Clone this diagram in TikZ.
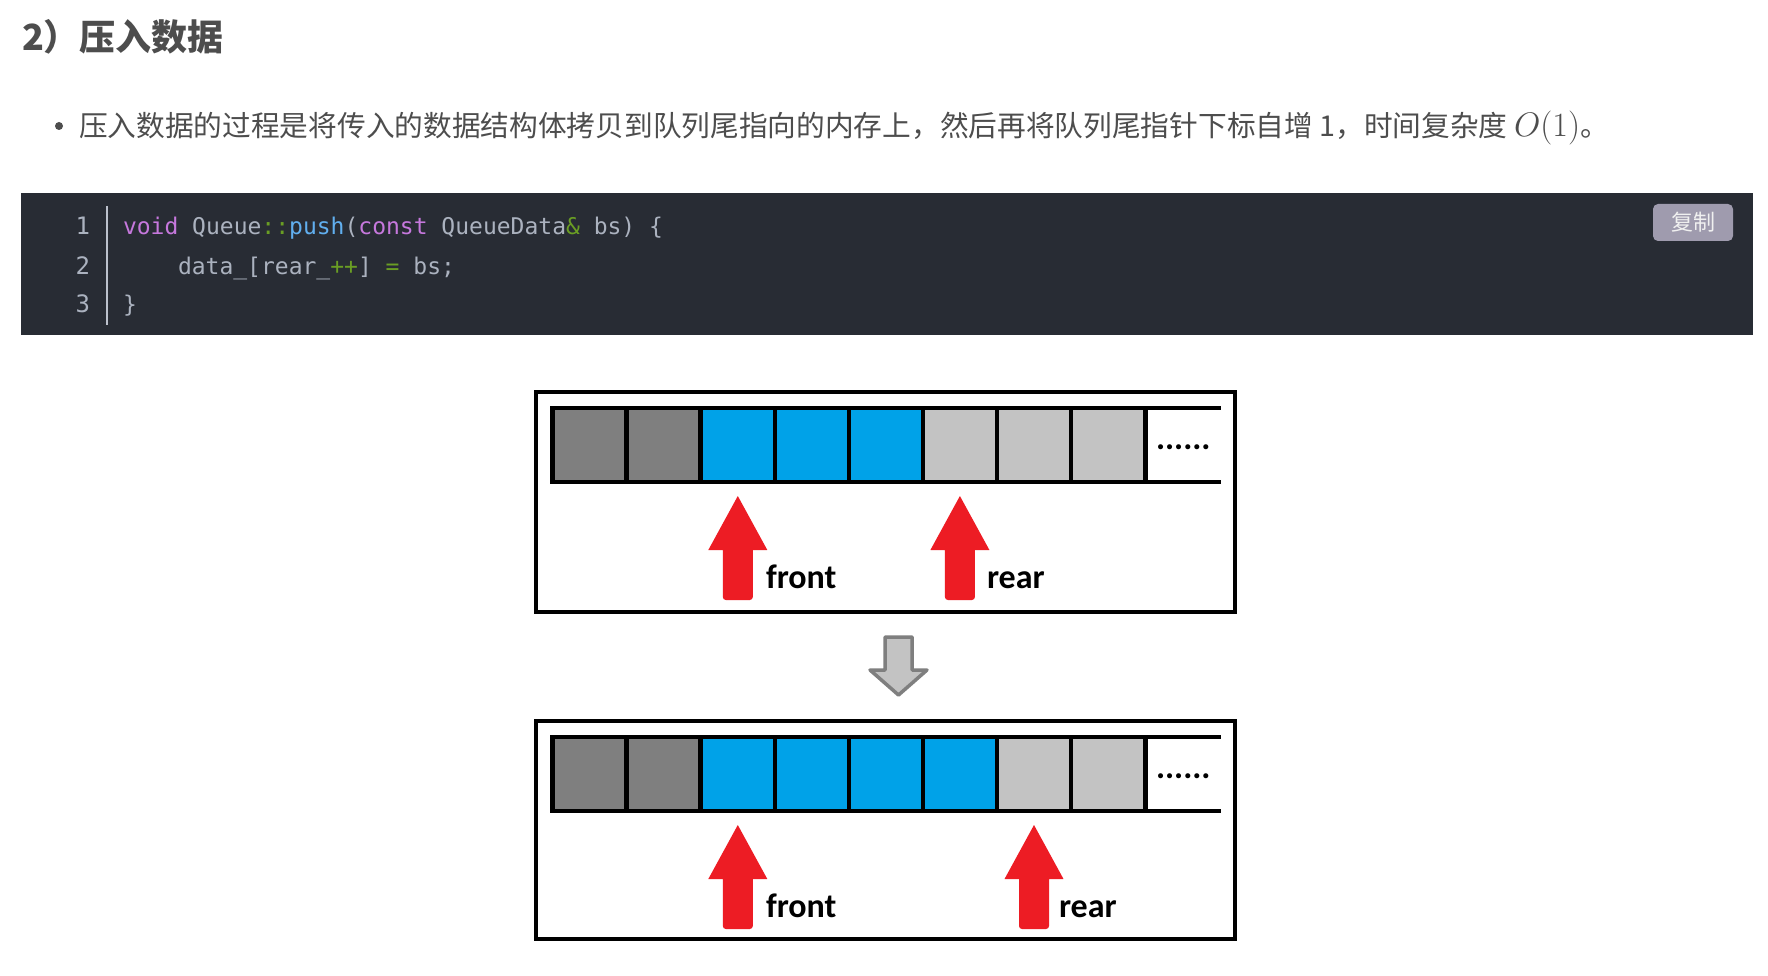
\RequirePackage{fix-cm}
\documentclass[tikz,border=0pt]{standalone}
\usepackage{fontspec}
\setmainfont{Noto Sans CJK SC}
\newfontfamily\codefont{DejaVu Sans Mono}
\newfontfamily\lblfont{Carlito}
\definecolor{txt}{HTML}{4D4D4D}
\definecolor{codebg}{HTML}{282C34}
\definecolor{codefg}{HTML}{ABB2BF}
\definecolor{kw}{HTML}{C678DD}
\definecolor{fn}{HTML}{61AFEF}
\definecolor{op}{HTML}{6A9E24}
\definecolor{btn}{HTML}{9F9BAE}
\definecolor{dgrey}{HTML}{7F7F7F}
\definecolor{qblue}{HTML}{00A2E8}
\definecolor{lgrey}{HTML}{C3C3C3}
\definecolor{pred}{HTML}{ED1C24}
\begin{document}
\begin{tikzpicture}[x=1pt,y=-1pt,
  plain/.style={inner sep=0pt, outer sep=0pt},
  titletxt/.style={plain, anchor=base west, text=txt, font=\fontsize{36}{42}\selectfont\bfseries},
  bodytxt/.style={plain, anchor=base west, text=txt, font=\fontsize{28.7}{34}\selectfont},
  codetxt/.style={plain, anchor=base west, text=codefg, font=\fontsize{23}{28}\selectfont\codefont},
  linenum/.style={plain, anchor=base east, text=codefg, font=\fontsize{24}{28}\selectfont\codefont},
  lbl/.style={plain, anchor=base west, text=black, font=\fontsize{34}{40}\selectfont\lblfont\bfseries},
  cell/.style={draw=black, line width=4.5pt, minimum width=74.1pt, minimum height=74pt, inner sep=0pt, outer sep=0pt},
  frame/.style={draw=black, line width=4.5pt},
  rail/.style={draw=black, line width=4.5pt},
  redup/.pic={\fill[pred, rounded corners=0.1pt] (0,0) -- (29.5,54) -- (15,54) [rounded corners=3pt] -- (15,104) -- (-15,104) [rounded corners=0.1pt] -- (-15,54) -- (-29.5,54) -- cycle;}
]
\useasboundingbox[fill=white] (0,0) rectangle (1768,976);

% heading and bullet
\node[titletxt] (title) at (22,51) {2）压入数据};
\fill[txt] (59,126) circle (4);
\node[bodytxt] (body) at (79,137) {压入数据的过程是将传入的数据结构体拷贝到队列尾指向的内存上，然后再将队列尾指针下标自增 1，时间复杂度 {\fontsize{34}{40}\selectfont$O(1)$}。};

% code block
\fill[codebg] (21,193) rectangle (1753,335);
\draw[color=codefg!80!white, line width=2pt] (107,206) -- (107,325);
\node[linenum] (n1) at (90,235) {1};
\node[linenum] (n2) at (90,274) {2};
\node[linenum] (n3) at (90,312) {3};
\node[codetxt] (c1) at (123,235) {\textcolor{kw}{void} Queue\textcolor{op}{::}\textcolor{fn}{push}(\textcolor{kw}{const} QueueData\textcolor{op}{\&} bs) \{};
\node[codetxt] (c2) at (178,274) {data\_[rear\_\textcolor{op}{++}] \textcolor{op}{=} bs;};
\node[codetxt] (c3) at (123,312) {\}};
\fill[btn, rounded corners=5pt] (1653,204) rectangle (1733,241);
\node[plain, text=white!94!black, font=\fontsize{22}{26}\selectfont] (copy) at (1693,222.5) {复制};

% top queue
\draw[frame] (536,392) rectangle (1235,612);
\foreach \i/\c in {0/dgrey,1/dgrey,2/qblue,3/qblue,4/qblue,5/lgrey,6/lgrey,7/lgrey}{
  \node[cell, fill=\c] (t\i) at ({552.5+(\i+0.5)*74.1},445) {};
}
\draw[rail] (550,408) -- (1221,408);
\draw[rail] (550,482) -- (1221,482);
\node[lbl] (tdots) at (1156,449) {......};
\pic at (737.8,496) {redup};
\pic at (959.9,496) {redup};
\node[lbl] (tfront) at (766,588) {front};
\node[lbl] (trear) at (987,588) {rear};

% down arrow
\draw[line width=3.5pt, draw=dgrey, fill=lgrey, line join=round] (885,637) -- (912,637) -- (912,670) -- (927,670) -- (898.5,695) -- (870,670) -- (885,670) -- cycle;

% bottom queue
\draw[frame] (536,721) rectangle (1235,939);
\foreach \i/\c in {0/dgrey,1/dgrey,2/qblue,3/qblue,4/qblue,5/qblue,6/lgrey,7/lgrey}{
  \node[cell, fill=\c] (b\i) at ({552.5+(\i+0.5)*74.1},774) {};
}
\draw[rail] (550,737) -- (1221,737);
\draw[rail] (550,811) -- (1221,811);
\node[lbl] (bdots) at (1156,778) {......};
\pic at (737.8,825) {redup};
\pic at (1034,825) {redup};
\node[lbl] (bfront) at (766,917) {front};
\node[lbl] (brear) at (1059,917) {rear};
\end{tikzpicture}
\end{document}
